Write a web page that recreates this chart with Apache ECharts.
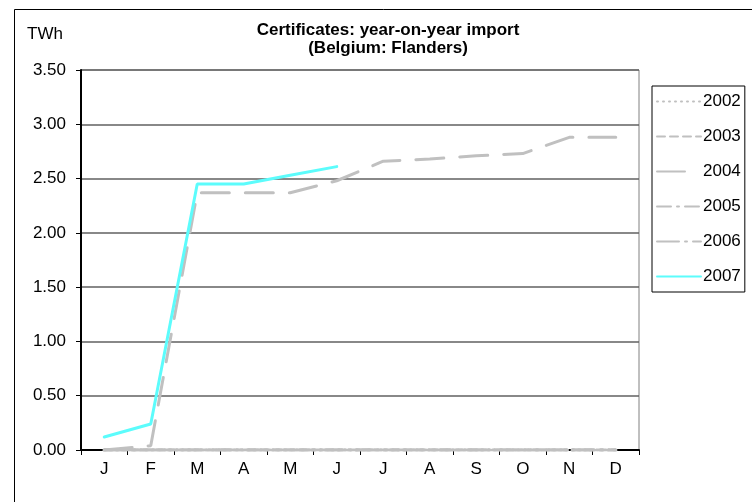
<!DOCTYPE html>
<html>
<head>
<meta charset="utf-8">
<script src="https://cdn.jsdelivr.net/npm/echarts@6/dist/echarts.min.js"></script>
<style>
html,body{margin:0;padding:0;background:#fff;}
#c{width:752px;height:502px;}
</style>
</head>
<body>
<div id="c"></div>
<script>
var months = ['J','F','M','A','M','J','J','A','S','O','N','D'];
var yTicks = [0, 0.5, 1.0, 1.5, 2.0, 2.5, 3.0, 3.5];
var s2002 = [0,0,0,0,0,0,0,0,0,0,0,0];
var s2003 = [0,0,0,0,0,0,0,0,0,0,0,0];
var s2004 = [0,0.04,2.37,2.37,2.37,2.48,2.66,2.68,2.71,2.73,2.88,2.88];
var s2005 = [0,0,0,0,0,0,0,0,0,0,0,0];
var s2006 = [0,0,0,0,0,0,0,0,0,0,0,0];
var s2007 = [0.12,0.24,2.45,2.45,2.53,2.61];

var FONT = 'Liberation Sans, Arial, sans-serif';
var GRAY = '#C0C0C0';
function mk(name, data, type, color, width, z) {
  return {
    name: name, type: 'line', data: data, symbol: 'none', z: z || 2,
    lineStyle: { color: color, width: width, type: type, cap: 'round' },
    itemStyle: { color: color },
    animation: false
  };
}
var chart = echarts.init(document.getElementById('c'), null, { renderer: 'canvas' });
chart.setOption({
  backgroundColor: '#ffffff',
  animation: false,
  title: {
    text: 'Certificates: year-on-year import\n(Belgium: Flanders)',
    left: 383, textAlign: 'center', top: 16,
    textStyle: { fontFamily: FONT, fontSize: 17, fontWeight: 'bold', color: '#000', lineHeight: 18 }
  },
  graphic: [
    { type: 'rect', shape: { x: 14.5, y: 9.5, width: 760, height: 520 }, style: { fill: 'none', stroke: '#000', lineWidth: 1 }, z: -1 },
    { type: 'text', left: 27, top: 26, style: { text: 'TWh', fontFamily: FONT, fontSize: 17, fill: '#000' } }
  ],
  legend: {
    orient: 'vertical', left: 652, top: 86,
    padding: [7, 4, 7, 4],
    backgroundColor: '#fff',
    borderColor: '#000', borderWidth: 1,
    itemWidth: 44, itemHeight: 14, itemGap: 18,
    itemStyle: { opacity: 0 },
    textStyle: { fontFamily: FONT, fontSize: 17, color: '#000', padding: [0, 0, 0, -3] },
    data: ['2002','2003','2004','2005','2006','2007']
  },
  grid: {
    left: 81, right: 113, top: 70, bottom: 52,
    show: true, borderColor: '#808080', borderWidth: 1, backgroundColor: '#fff'
  },
  xAxis: {
    type: 'category', data: months, boundaryGap: true,
    axisLine: { lineStyle: { color: '#000', width: 2 } },
    axisTick: { show: true, length: 5, lineStyle: { color: '#000', width: 1 } },
    axisLabel: { fontFamily: FONT, fontSize: 17, color: '#000', margin: 11 },
    splitLine: { show: false }
  },
  yAxis: {
    type: 'value', min: yTicks[0], max: yTicks[yTicks.length - 1], interval: 0.5,
    axisLine: { show: true, lineStyle: { color: '#000', width: 2 } },
    axisTick: { show: true, length: 5, lineStyle: { color: '#000', width: 1 } },
    axisLabel: { fontFamily: FONT, fontSize: 17, color: '#000', margin: 15, formatter: function (v) { return v.toFixed(2); } },
    splitLine: { show: true, lineStyle: { color: '#606060', width: 1.5 } }
  },
  series: [
    mk('2002', s2002, [1, 5], GRAY, 3),
    mk('2003', s2003, [8, 5], GRAY, 3),
    mk('2004', s2004, [28, 16], GRAY, 3),
    mk('2005', s2005, [14, 6, 2, 6], GRAY, 3),
    mk('2006', s2006, [22, 6, 2, 6], GRAY, 3),
    mk('2007', s2007, 'solid', '#5CFCFC', 3, 5)
  ]
});
</script>
</body>
</html>
